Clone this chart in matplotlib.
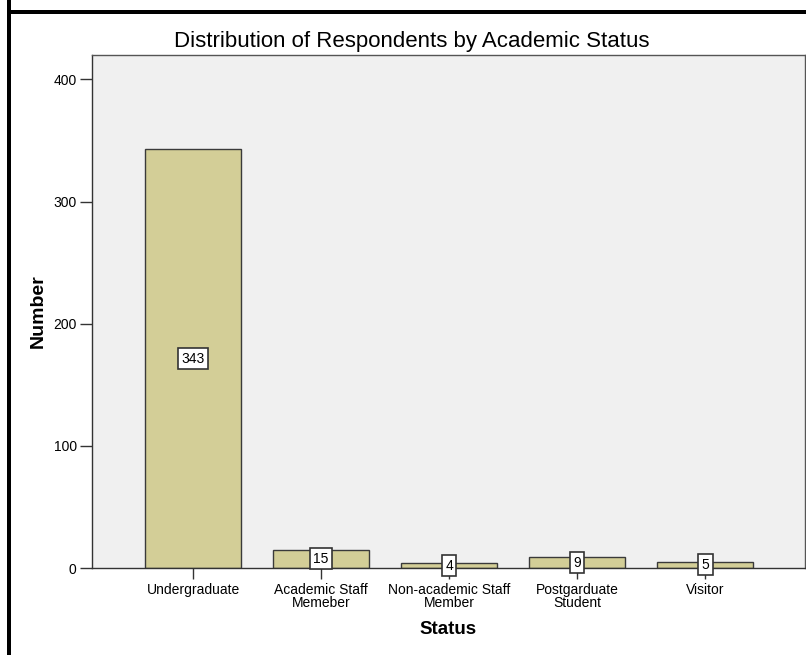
import matplotlib
matplotlib.use("Agg")
import matplotlib.pyplot as plt
from matplotlib.patches import Rectangle

plt.rcParams['font.family'] = ['Liberation Sans', 'DejaVu Sans']

categories = ['Undergraduate', 'Academic Staff\nMemeber', 'Non-academic Staff\nMember',
              'Postgarduate\nStudent', 'Visitor']
counts = [343, 15, 4, 9, 5]
yticks = [0, 100, 200, 300, 400]

W, H = 806, 655
fig = plt.figure(figsize=(W / 100, H / 100), dpi=100)
fig.patch.set_facecolor('white')

# axes box in pixel coords: left 92, right 805, top 55, bottom 568
ax = fig.add_axes([92 / W, (H - 568) / H, (805 - 92) / W, (568 - 55) / H])
ax.set_facecolor('#f0f0f0')

x = list(range(len(categories)))
ax.bar(x, counts, width=0.75, color='#d3ce97', edgecolor='#3a3a3a', linewidth=1.0, zorder=2)

for xi, v in zip(x, counts):
    ax.text(xi, v / 2, str(v), ha='center', va='center', fontsize=10, zorder=3,
            bbox=dict(boxstyle='square,pad=0.25', facecolor='white', edgecolor='#333333', linewidth=1.2))

ax.set_xlim(-0.79, 4.78)
ax.set_ylim(0, 420)
ax.set_yticks(yticks)
ax.set_xticks(x)
ax.set_xticklabels(categories, fontsize=10, linespacing=0.9)
ax.tick_params(axis='y', direction='out', length=9, width=1, color='#333333', labelsize=10, pad=2)
ax.tick_params(axis='x', direction='out', length=8, width=1, color='#333333', pad=3)

for s in ax.spines.values():
    s.set_color('#555555')
    s.set_linewidth(1.0)
ax.spines['bottom'].set_color('#333333')
ax.spines['left'].set_color('#333333')

ax.set_ylabel('Number', fontsize=14, fontweight='bold')
ax.yaxis.set_label_coords(-0.063, 0.5)
ax.set_xlabel('Status', fontsize=13.5, fontweight='bold')
ax.xaxis.set_label_coords(0.5, -0.104)
fig.text(412 / W, 1 - 41 / H, 'Distribution of Respondents by Academic Status',
         ha='center', va='center', fontsize=16)

# black frame along the top and left edges
fig.add_artist(Rectangle((7 / W, -0.1), 4 / W, 1.2 - 10 / H, transform=fig.transFigure,
                         facecolor='black', edgecolor='none'))
fig.add_artist(Rectangle((7 / W, 1 - 14 / H), 1.0, 4 / H, transform=fig.transFigure,
                         facecolor='black', edgecolor='none'))

fig.savefig('out.png', dpi=100)
